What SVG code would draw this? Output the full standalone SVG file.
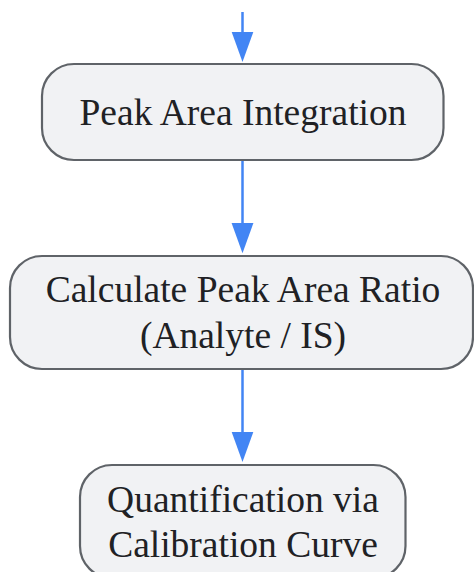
<svg xmlns="http://www.w3.org/2000/svg" width="474" height="572" viewBox="0 0 474 572">
<style>
.node rect{fill:#f1f2f4;stroke:#5f6368;stroke-width:2.2}
.node text{font-family:"Liberation Serif","Times New Roman",serif;font-size:37.5px;fill:#202124;text-anchor:middle}
.edge{stroke:#4285f4;stroke-width:2.5;fill:none;marker-end:url(#ah)}
</style>
<defs>
<marker id="ah" markerUnits="userSpaceOnUse" markerWidth="31" markerHeight="23" viewBox="0 0 31 23" refX="0.5" refY="11.5" orient="auto">
<polygon points="0,0.5 30.5,11.5 0,22.5" fill="#4285f4"/>
</marker>
</defs>
<g id="connectors">
<path class="edge" d="M242.5,12 V32" />
<path class="edge" d="M242.5,160 V223.3" />
<path class="edge" d="M242.5,369.5 V432" />
</g>
<g id="node1" class="node">
<rect x="42" y="64" width="401.5" height="96" rx="32" ry="32"/>
<text x="243" y="125">Peak Area Integration</text>
</g>
<g id="node2" class="node">
<rect x="10" y="256" width="463" height="113" rx="32" ry="32"/>
<text x="243" y="302">Calculate Peak Area Ratio</text>
<text x="243" y="348">(Analyte / IS)</text>
</g>
<g id="node3" class="node">
<rect x="80" y="465" width="325.5" height="113" rx="32" ry="32"/>
<text x="243" y="512">Quantification via</text>
<text x="243" y="557">Calibration Curve</text>
</g>
</svg>
